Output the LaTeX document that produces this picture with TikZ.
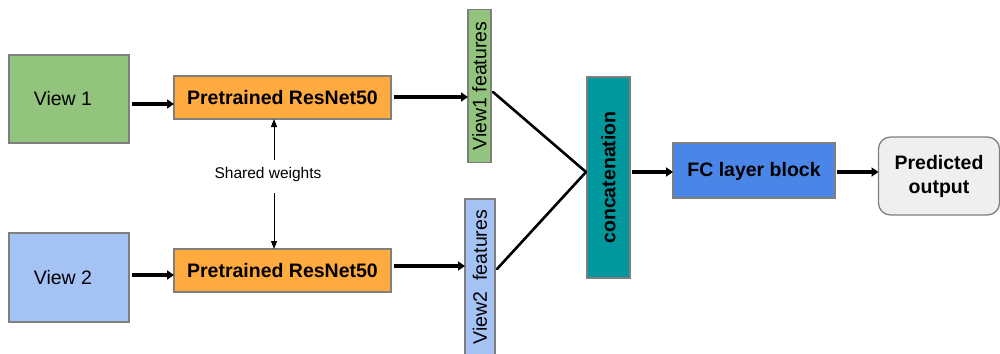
\documentclass[tikz,border=0pt]{standalone}
\usepackage{fontspec}
\setmainfont{Liberation Sans}
\usetikzlibrary{arrows.meta}
\definecolor{vgreen}{HTML}{93C47D}
\definecolor{vblue}{HTML}{A4C2F4}
\definecolor{rorange}{HTML}{FFAB40}
\definecolor{cteal}{HTML}{00979D}
\definecolor{fcblue}{HTML}{4A86E8}
\definecolor{pgray}{HTML}{EFEFEF}
\definecolor{bord}{HTML}{7F7F7F}
\tikzset{
  box/.style={draw=bord, line width=1.3pt, inner sep=0pt, outer sep=0pt},
  big/.style={font=\fontsize{19.5}{23}\selectfont},
  bigb/.style={font=\fontsize{19.5}{24}\selectfont\bfseries},
  thick arrow/.style={line width=3.5pt, -{Triangle[length=7pt,width=9pt]}},
  thin arrow/.style={line width=0.9pt, -{Triangle[length=8pt,width=6pt]}},
  link/.style={line width=2.6pt, line cap=round},
}
\begin{document}
\begin{tikzpicture}[x=1pt,y=-1pt]
\useasboundingbox (0,0) rectangle (1000,353);
% boxes
\node[box, fill=vgreen, minimum width=120pt, minimum height=88pt, big] (v1) at (69,99) {\hspace*{-12pt}View 1};
\node[box, fill=vblue, minimum width=120pt, minimum height=89pt, big] (v2) at (69,277.5) {\hspace*{-12pt}View 2};
\node[box, fill=rorange, minimum width=217pt, minimum height=43pt, bigb] (r1) at (282.5,97.5) {Pretrained ResNet50};
\node[box, fill=rorange, minimum width=217pt, minimum height=43pt, bigb] (r2) at (282.5,270.5) {Pretrained ResNet50};
\node[font=\fontsize{15.5}{18}\selectfont] (sw) at (268,174) {Shared weights};
\coordinate (swt) at (274,160);
\coordinate (swb) at (274,193);
\node[box, fill=vgreen, minimum width=153pt, minimum height=23pt, rotate=90, big] (f1) at (479.5,86) {View1 features};
\node[box, fill=vblue, minimum width=156pt, minimum height=30pt, rotate=90, big] (f2) at (480,277) {View2\ \ features};
\node[box, fill=cteal, minimum width=201pt, minimum height=43pt, rotate=90, bigb] (cc) at (608.5,177.5) {concatenation};
\node[box, fill=fcblue, minimum width=162pt, minimum height=55pt, bigb, text depth=2pt] (fc) at (754,170.5) {FC layer block};
\node[box, fill=pgray, rounded corners=12pt, minimum width=121pt, minimum height=78pt, bigb, align=center] (po) at (939,176) {Predicted\\output};
% connectors (rotated nodes: north = left side, south = right side)
\draw[thick arrow] (v1.east |- 0,104) ++(3,0) -- (r1.west |- 0,104);
\draw[thick arrow] (v2.east |- 0,275) ++(3,0) -- (r2.west |- 0,275);
\draw[thick arrow] (r1.east |- 0,97) ++(3,0) -- (f1.north |- 0,97);
\draw[thick arrow] (r2.east |- 0,266) ++(3,0) -- (f2.north |- 0,266);
\draw[thin arrow] (swt) -- (r1.south -| swt);
\draw[thin arrow] (swb) -- (r2.north -| swb);
\coordinate (cin) at (586,172);
\draw[link] (f1.south |- 0,92) ++(2,0) -- (cin);
\draw[link] (f2.south |- 0,269) ++(2,0) -- (cin);
\draw[thick arrow] (cc.south |- 0,172) ++(2,0) -- (fc.west |- 0,172);
\draw[thick arrow] (fc.east |- 0,172) ++(2,0) -- (po.west |- 0,172);
\end{tikzpicture}
\end{document}
